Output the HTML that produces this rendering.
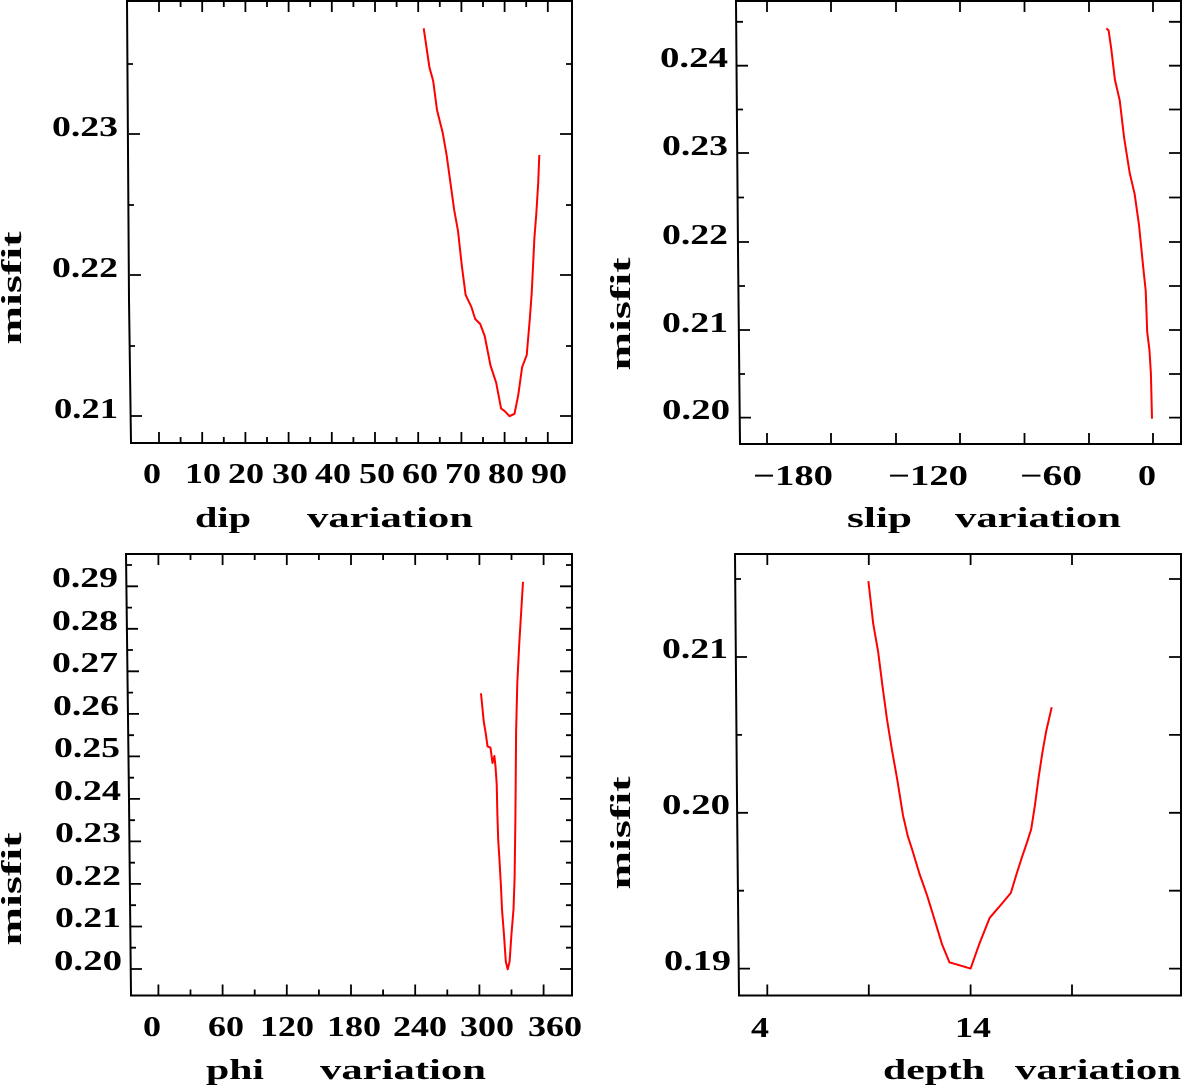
<!DOCTYPE html>
<html><head><meta charset="utf-8"><style>
html,body{margin:0;padding:0;background:#fff;}
svg{display:block;}
text{font-family:"Liberation Serif",serif;font-size:28px;fill:#000;font-weight:bold;}
.ax{fill:none;stroke:#000;stroke-width:2;}
.tk{fill:none;stroke:#000;stroke-width:1.8;}
.cv{fill:none;stroke:#f00;stroke-width:2;stroke-linejoin:round;}
</style></head><body>
<svg width="1183" height="1086" viewBox="0 0 1183 1086" xmlns="http://www.w3.org/2000/svg">
<!-- Panel 1 -->
<path class="ax" d="M127 1 L572 1 L572 443 L131 443 L129 300 Z"/>
<path class="tk" d="M159 443v-11M180.6 443v-6M202.2 443v-11M223.8 443v-6M245.4 443v-11M267 443v-6M288.6 443v-11M310.2 443v-6M331.8 443v-11M353.4 443v-6M375 443v-11M396.6 443v-6M418.2 443v-11M439.8 443v-6M461.4 443v-11M483 443v-6M504.6 443v-11M526.2 443v-6M547.8 443v-11
M159 1v11M180.6 1v6M202.2 1v11M223.8 1v6M245.4 1v11M267 1v6M288.6 1v11M310.2 1v6M331.8 1v11M353.4 1v6M375 1v11M396.6 1v6M418.2 1v11M439.8 1v6M461.4 1v11M483 1v6M504.6 1v11M526.2 1v6M547.8 1v11
M129 134h11M130 275h11M131 416h11M128 64h5M129 205h5M130 346h5
M572 134h-12M572 275h-12M572 416h-12M572 64h-6M572 205h-6M572 346h-6"/>
<text x="118" y="136" text-anchor="end" textLength="66" lengthAdjust="spacingAndGlyphs">0.23</text>
<text x="118" y="277" text-anchor="end" textLength="66" lengthAdjust="spacingAndGlyphs">0.22</text>
<text x="118" y="418" text-anchor="end" textLength="64" lengthAdjust="spacingAndGlyphs">0.21</text>
<text x="152" y="483" text-anchor="middle" textLength="18" lengthAdjust="spacingAndGlyphs">0</text>
<text x="203" y="483" text-anchor="middle" textLength="36" lengthAdjust="spacingAndGlyphs">10</text>
<text x="246" y="483" text-anchor="middle" textLength="36" lengthAdjust="spacingAndGlyphs">20</text>
<text x="290" y="483" text-anchor="middle" textLength="36" lengthAdjust="spacingAndGlyphs">30</text>
<text x="333" y="483" text-anchor="middle" textLength="36" lengthAdjust="spacingAndGlyphs">40</text>
<text x="377" y="483" text-anchor="middle" textLength="36" lengthAdjust="spacingAndGlyphs">50</text>
<text x="420" y="483" text-anchor="middle" textLength="36" lengthAdjust="spacingAndGlyphs">60</text>
<text x="463" y="483" text-anchor="middle" textLength="36" lengthAdjust="spacingAndGlyphs">70</text>
<text x="506" y="483" text-anchor="middle" textLength="36" lengthAdjust="spacingAndGlyphs">80</text>
<text x="549" y="483" text-anchor="middle" textLength="36" lengthAdjust="spacingAndGlyphs">90</text>
<text x="195" y="527" textLength="56" lengthAdjust="spacingAndGlyphs">dip</text>
<text x="307" y="527" textLength="166" lengthAdjust="spacingAndGlyphs">variation</text>
<text transform="translate(21,288) rotate(-90)" text-anchor="middle" textLength="113" lengthAdjust="spacingAndGlyphs">misfit</text>
<polyline class="cv" points="423.7,28.3 429.4,67.2 433.2,81 437,110 442.7,132.8 446.6,155 454.2,210 458,231 461.8,265.5 465.6,294.8 471.4,307 475.2,319 480.2,324 484.7,336 490.5,365.5 496.2,382.8 501.1,408.6 504.6,411 509.5,416.2 514.5,413.8 518.3,394.8 522.1,367.2 526.7,355.2 529.8,319 531.7,293 534.4,238 536.3,213.8 538.2,182.8 539.3,155"/>

<!-- Panel 2 -->
<path class="ax" d="M736 1 L1181 1 L1181 444 L740 444 L738 250 Z"/>
<path class="tk" d="M767 444v-11M831 444v-11M896 444v-11M960 444v-11M1024.5 444v-11M1089 444v-11M1153 444v-11
M767 1v11M831 1v11M896 1v11M960 1v11M1024.5 1v11M1089 1v11M1153 1v11
M737 65.7h11M738 153h11M738 242h11M739 330h11M740 417.6h11M737 21.8h6M737 109.5h6M738 197.5h6M739 286h6M739 374h6
M1181 65.7h-12M1181 153h-12M1181 242h-12M1181 330h-12M1181 417.6h-12M1181 21.8h-12M1181 109.5h-12M1181 197.5h-12M1181 286h-12M1181 374h-12"/>
<text x="728" y="67" text-anchor="end" textLength="68" lengthAdjust="spacingAndGlyphs">0.24</text>
<text x="728" y="155" text-anchor="end" textLength="66" lengthAdjust="spacingAndGlyphs">0.23</text>
<text x="728" y="244" text-anchor="end" textLength="66" lengthAdjust="spacingAndGlyphs">0.22</text>
<text x="728" y="332" text-anchor="end" textLength="66" lengthAdjust="spacingAndGlyphs">0.21</text>
<text x="730" y="419" text-anchor="end" textLength="68" lengthAdjust="spacingAndGlyphs">0.20</text>
<text x="793" y="485" text-anchor="middle" textLength="80" lengthAdjust="spacingAndGlyphs">−180</text>
<text x="928" y="485" text-anchor="middle" textLength="80" lengthAdjust="spacingAndGlyphs">−120</text>
<text x="1051" y="485" text-anchor="middle" textLength="62" lengthAdjust="spacingAndGlyphs">−60</text>
<text x="1147" y="485" text-anchor="middle" textLength="18" lengthAdjust="spacingAndGlyphs">0</text>
<text x="847" y="527" textLength="65" lengthAdjust="spacingAndGlyphs">slip</text>
<text x="955" y="527" textLength="166" lengthAdjust="spacingAndGlyphs">variation</text>
<text transform="translate(630,314) rotate(-90)" text-anchor="middle" textLength="113" lengthAdjust="spacingAndGlyphs">misfit</text>
<polyline class="cv" points="1106.3,28.4 1108.6,30.4 1111.2,48.4 1114.9,79.6 1119.7,100.3 1124.2,138.4 1129.7,173 1134.6,193.8 1139,225 1143.5,270 1145.7,290.7 1147.2,332 1149.4,349.5 1150.9,373.7 1152,418.7"/>

<!-- Panel 3 -->
<path class="ax" d="M126 554 L572 554 L572 995.5 L131 995.5 L129 800 Z"/>
<path class="tk" d="M158.4 995.5v-11M190.5 995.5v-6M222.6 995.5v-11M254.7 995.5v-6M286.8 995.5v-11M318.9 995.5v-6M351 995.5v-11M383.1 995.5v-6M415.2 995.5v-11M447.3 995.5v-6M479.4 995.5v-11M511.5 995.5v-6M543.6 995.5v-11
M158.4 554v11M190.5 554v6M222.6 554v11M254.7 554v6M286.8 554v11M318.9 554v6M351 554v11M383.1 554v6M415.2 554v11M447.3 554v6M479.4 554v11M511.5 554v6M543.6 554v11
M127 586.3h11M127 628.8h11M128 671.3h11M128 713.9h11M129 756.4h11M129 798.9h11M130 841.4h11M130 883.9h11M131 926.5h11M131 969h11
M127 565h5M127 607.6h5M128 650h5M128 692.6h5M129 735.2h5M129 777.7h5M130 820.2h5M130 862.7h5M131 905.2h5M131 947.7h5
M572 586.3h-12M572 628.8h-12M572 671.3h-12M572 713.9h-12M572 756.4h-12M572 798.9h-12M572 841.4h-12M572 883.9h-12M572 926.5h-12M572 969h-12
M572 565h-6M572 607.6h-6M572 650h-6M572 692.6h-6M572 735.2h-6M572 777.7h-6M572 820.2h-6M572 862.7h-6M572 905.2h-6M572 947.7h-6"/>
<text x="118" y="587" text-anchor="end" textLength="66" lengthAdjust="spacingAndGlyphs">0.29</text>
<text x="118" y="630" text-anchor="end" textLength="66" lengthAdjust="spacingAndGlyphs">0.28</text>
<text x="118" y="672" text-anchor="end" textLength="66" lengthAdjust="spacingAndGlyphs">0.27</text>
<text x="119" y="715" text-anchor="end" textLength="66" lengthAdjust="spacingAndGlyphs">0.26</text>
<text x="120" y="757" text-anchor="end" textLength="66" lengthAdjust="spacingAndGlyphs">0.25</text>
<text x="121" y="800" text-anchor="end" textLength="67" lengthAdjust="spacingAndGlyphs">0.24</text>
<text x="121" y="842" text-anchor="end" textLength="66" lengthAdjust="spacingAndGlyphs">0.23</text>
<text x="121" y="885" text-anchor="end" textLength="66" lengthAdjust="spacingAndGlyphs">0.22</text>
<text x="121" y="927" text-anchor="end" textLength="66" lengthAdjust="spacingAndGlyphs">0.21</text>
<text x="122" y="970" text-anchor="end" textLength="68" lengthAdjust="spacingAndGlyphs">0.20</text>
<text x="152" y="1036" text-anchor="middle" textLength="18" lengthAdjust="spacingAndGlyphs">0</text>
<text x="226" y="1036" text-anchor="middle" textLength="36" lengthAdjust="spacingAndGlyphs">60</text>
<text x="287" y="1036" text-anchor="middle" textLength="54" lengthAdjust="spacingAndGlyphs">120</text>
<text x="354" y="1036" text-anchor="middle" textLength="54" lengthAdjust="spacingAndGlyphs">180</text>
<text x="420" y="1036" text-anchor="middle" textLength="54" lengthAdjust="spacingAndGlyphs">240</text>
<text x="487" y="1036" text-anchor="middle" textLength="54" lengthAdjust="spacingAndGlyphs">300</text>
<text x="555" y="1036" text-anchor="middle" textLength="54" lengthAdjust="spacingAndGlyphs">360</text>
<text x="206" y="1079" textLength="58" lengthAdjust="spacingAndGlyphs">phi</text>
<text x="320" y="1079" textLength="166" lengthAdjust="spacingAndGlyphs">variation</text>
<text transform="translate(21,889) rotate(-90)" text-anchor="middle" textLength="113" lengthAdjust="spacingAndGlyphs">misfit</text>
<polyline class="cv" points="481,693.3 483.7,721.2 486,735.1 487.5,746.3 490.5,747.7 492.5,763 494.4,756 495.5,766.5 496.7,783.9 497.4,815.3 498.2,839.7 499.3,857.1 500.9,885 502,909.4 503.9,933.7 505.8,961.6 507.7,969.3 509.6,961.6 511.5,933.7 513.5,909.4 514.6,878 515.4,818.7 516.1,731.6 517.3,682.9 519.2,644.5 521.1,613.2 523,581.8"/>

<!-- Panel 4 -->
<path class="ax" d="M735 554 L1181 554 L1181 995.5 L739 995.5 L737 800 Z"/>
<path class="tk" d="M767.3 995.5v-11M868.8 995.5v-11M970.6 995.5v-11M1072 995.5v-11
M767.3 554v11M868.8 554v11M970.6 554v11M1072 554v11
M736 657h11M737 812.8h11M739 968.6h11M735 579h6M736 734.9h6M738 890.7h6
M1181 657h-12M1181 812.8h-12M1181 968.6h-12M1181 579h-12M1181 734.9h-12M1181 890.7h-12"/>
<text x="728" y="658" text-anchor="end" textLength="66" lengthAdjust="spacingAndGlyphs">0.21</text>
<text x="730" y="814" text-anchor="end" textLength="68" lengthAdjust="spacingAndGlyphs">0.20</text>
<text x="731" y="970" text-anchor="end" textLength="67" lengthAdjust="spacingAndGlyphs">0.19</text>
<text x="760" y="1037" text-anchor="middle" textLength="18" lengthAdjust="spacingAndGlyphs">4</text>
<text x="973" y="1037" text-anchor="middle" textLength="36" lengthAdjust="spacingAndGlyphs">14</text>
<text x="883" y="1079" textLength="102" lengthAdjust="spacingAndGlyphs">depth</text>
<text x="1015" y="1079" textLength="166" lengthAdjust="spacingAndGlyphs">variation</text>
<text transform="translate(630,833) rotate(-90)" text-anchor="middle" textLength="113" lengthAdjust="spacingAndGlyphs">misfit</text>
<polyline class="cv" points="868.4,581.1 873.2,623.6 878.1,651.5 882.5,686.3 887,719.4 891.8,749.1 897.4,780.4 903,815.3 907.8,836.2 912.3,850.1 919.7,874.5 927.1,895.4 934.6,919.8 942,944.2 949.4,962.3 970.6,968.6 979.2,944.2 989.6,918 994,912.8 1001.5,904.1 1010.8,893 1016.4,874.5 1022,857.1 1026.8,843.1 1031.2,829.2 1035,804.8 1038.7,776.9 1042.4,752.5 1046.1,731.6 1051.7,707.2"/>
</svg>
</body></html>
